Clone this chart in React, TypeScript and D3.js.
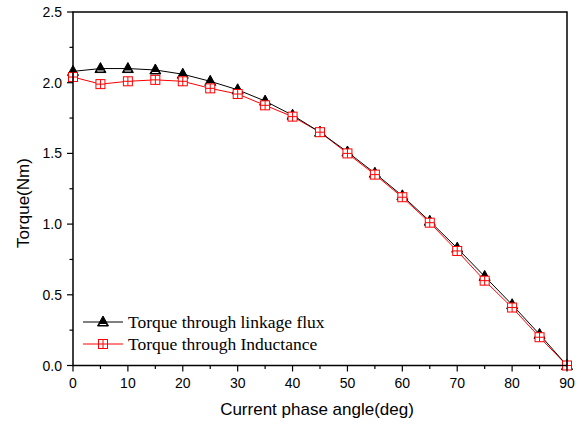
import React from "react";
import * as d3 from "d3";

const angles = [0, 5, 10, 15, 20, 25, 30, 35, 40, 45, 50, 55, 60, 65, 70, 75, 80, 85, 90];
const fluxTorque = [2.08, 2.1, 2.1, 2.09, 2.06, 2.01, 1.95, 1.87, 1.77, 1.65, 1.51, 1.36, 1.2, 1.02, 0.83, 0.63, 0.43, 0.22, 0.0];
const inductTorque = [2.04, 1.99, 2.01, 2.02, 2.01, 1.96, 1.92, 1.84, 1.76, 1.65, 1.5, 1.35, 1.19, 1.01, 0.81, 0.6, 0.41, 0.2, 0.0];
const xTicks = [0, 10, 20, 30, 40, 50, 60, 70, 80, 90];
const xMinor = [5, 15, 25, 35, 45, 55, 65, 75, 85];
const yTicks = [0, 0.5, 1.0, 1.5, 2.0, 2.5];
const yMinor = [0.25, 0.75, 1.25, 1.75, 2.25];
const seriesNames = ["Torque through linkage flux", "Torque through Inductance"];

const L = 73, R = 567, T = 12, B = 365.5;

function Tri({ x, y }: { x: number; y: number }) {
  return (
    <g transform={`translate(${x},${y})`}>
      <path d="M0,-6 L5.5,4 L-5.5,4 Z" fill="#000" stroke="#000" strokeWidth={1} />
      <path d="M-3.5,2 L3.5,2 L3,3 L-3,3 Z" fill="#fff" />
    </g>
  );
}
function Sq({ x, y }: { x: number; y: number }) {
  return (
    <g transform={`translate(${x},${y})`} stroke="#ff0000" strokeWidth={1} fill="none">
      <rect x={-4.5} y={-4.5} width={9} height={9} fill="#fff" />
      <line x1={0} y1={-4.5} x2={0} y2={4.5} />
      <line x1={-4.5} y1={0} x2={4.5} y2={0} />
    </g>
  );
}

export default function App() {
  const x = d3.scaleLinear().domain([0, 90]).range([L, R]);
  const y = d3.scaleLinear().domain([0, 2.5]).range([B, T]);
  const line = d3.line<number>().x((_, i) => x(angles[i])).y((d) => y(d));
  const ax = "Arial, 'Liberation Sans', sans-serif";
  const serif = "'Times New Roman', 'Liberation Serif', serif";
  return (
    <svg width={581} height={424} style={{ position: "absolute", left: 0, top: 0, background: "#fff" }}>
      <rect x={0} y={0} width={581} height={424} fill="#fff" />
      <path d={line(inductTorque) || ""} fill="none" stroke="#ff0000" strokeWidth={1} />
      <path d={line(fluxTorque) || ""} fill="none" stroke="#000" strokeWidth={1} />
      {fluxTorque.map((v, i) => (
        <Tri key={"t" + i} x={x(angles[i])} y={y(v)} />
      ))}
      {inductTorque.map((v, i) => (
        <Sq key={"s" + i} x={x(angles[i])} y={y(v)} />
      ))}
      <rect x={L} y={T} width={R - L} height={B - T} fill="none" stroke="#000" strokeWidth={1.5} />
      {xTicks.map((t) => (
        <g key={"xt" + t}>
          <line x1={x(t)} x2={x(t)} y1={B} y2={B + 6} stroke="#000" strokeWidth={1.2} />
          <text x={x(t)} y={B + 22} textAnchor="middle" fontFamily={ax} fontSize={14}>{t}</text>
        </g>
      ))}
      {xMinor.map((t) => (
        <line key={"xm" + t} x1={x(t)} x2={x(t)} y1={B} y2={B + 3.5} stroke="#000" strokeWidth={1.2} />
      ))}
      {yTicks.map((t) => (
        <g key={"yt" + t}>
          <line x1={L - 6} x2={L} y1={y(t)} y2={y(t)} stroke="#000" strokeWidth={1.2} />
          <text x={L - 11} y={y(t) + 5} textAnchor="end" fontFamily={ax} fontSize={14}>{t.toFixed(1)}</text>
        </g>
      ))}
      {yMinor.map((t) => (
        <line key={"ym" + t} x1={L - 3.5} x2={L} y1={y(t)} y2={y(t)} stroke="#000" strokeWidth={1.2} />
      ))}
      <text x={(L + R) / 2 - 3} y={415} textAnchor="middle" fontFamily={ax} fontSize={17}>Current phase angle(deg)</text>
      <text transform={`translate(29,203) rotate(-90)`} textAnchor="middle" fontFamily={ax} fontSize={17}>Torque(Nm)</text>
      <g>
        <line x1={83} x2={123} y1={322} y2={322} stroke="#000" strokeWidth={1} />
        <Tri x={103} y={322} />
        <text x={128} y={328} fontFamily={serif} fontSize={17.5}>{seriesNames[0]}</text>
        <line x1={83} x2={123} y1={344} y2={344} stroke="#ff0000" strokeWidth={1} />
        <Sq x={103} y={344} />
        <text x={128} y={350} fontFamily={serif} fontSize={17.5}>{seriesNames[1]}</text>
      </g>
    </svg>
  );
}
